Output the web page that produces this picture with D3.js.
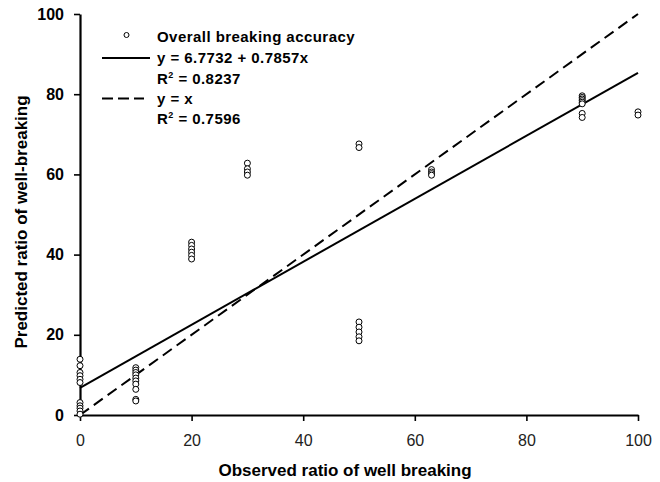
<!DOCTYPE html>
<html>
<head>
<meta charset="utf-8">
<script src="https://cdn.jsdelivr.net/npm/d3@7"></script>
<style>
  html, body { margin: 0; padding: 0; background: #fff; }
  svg { display: block; font-family: "Liberation Sans", Arial, sans-serif; }
</style>
</head>
<body>
<svg id="chart" width="660" height="482"></svg>
<script>
// ---- data ----
const observed = [
  0, 0, 0, 0, 0, 0, 0, 0, 0, 0, 0,
  10, 10, 10, 10, 10, 10, 10, 10, 10, 10,
  20, 20, 20, 20, 20, 20,
  30, 30, 30, 30,
  50, 50, 50, 50, 50, 50, 50,
  63, 63, 63, 63,
  90, 90, 90, 90, 90, 90, 90, 90,
  100, 100
];
const predicted = [
  13.9, 12.3, 10.6, 9.8, 8.9, 8.1, 3.1, 2.3, 1.7, 1.0, 0.2,
  11.8, 11.2, 10.6, 10.0, 9.2, 8.5, 7.7, 6.4, 3.9, 3.5,
  43.1, 42.3, 41.4, 40.6, 39.8, 38.9,
  62.8, 61.4, 60.6, 59.8,
  67.6, 66.7, 23.2, 21.9, 20.7, 19.5, 18.5,
  61.2, 60.6, 60.2, 59.8,
  79.6, 79.2, 78.8, 78.4, 78.0, 77.6, 75.2, 74.2,
  75.6, 74.8
];
const fitIntercept = 6.7732;
const fitSlope = 0.7857;
const lineXs = [0, 100];
const xTicks = [0, 20, 40, 60, 80, 100];
const yTicks = [0, 20, 40, 60, 80, 100];
const legendLabels = ["Overall breaking accuracy", "y = 6.7732 + 0.7857x", "0.8237", "y = x", "0.7596"];
const xTitle = "Observed ratio of well breaking";
const yTitle = "Predicted ratio of well-breaking";

// ---- layout ----
const svg = d3.select("#chart");
const pLeft = 80, pRight = 638, pTop = 14, pBottom = 415;
const x = d3.scaleLinear().domain([0, 100]).range([pLeft, pRight]);
const y = d3.scaleLinear().domain([0, 100]).range([pBottom, pTop]);

// axes
const xAxis = svg.append("g").attr("transform", `translate(0,${pBottom})`)
  .call(d3.axisBottom(x).tickValues(xTicks).tickSize(6).tickPadding(14).tickSizeOuter(0));
xAxis.select(".domain").attr("stroke", "#000").attr("stroke-width", 2.2);
xAxis.selectAll(".tick line").attr("stroke", "#000").attr("stroke-width", 1.6);
xAxis.selectAll(".tick text").attr("font-size", 16).attr("fill", "#222")
  .attr("font-family", "Liberation Sans, Arial, sans-serif");

const yAxis = svg.append("g").attr("transform", `translate(${pLeft},0)`)
  .call(d3.axisLeft(y).tickValues(yTicks).tickSize(6).tickPadding(10).tickSizeOuter(0));
yAxis.select(".domain").attr("stroke", "#000").attr("stroke-width", 2.2);
yAxis.selectAll(".tick line").attr("stroke", "#000").attr("stroke-width", 1.6);
yAxis.selectAll(".tick text").attr("font-size", 16).attr("font-weight", "bold").attr("fill", "#000")
  .attr("font-family", "Liberation Sans, Arial, sans-serif");

// lines
const line = d3.line().x(d => x(d[0])).y(d => y(d[1]));
svg.append("path")
  .datum(lineXs.map(v => [v, v]))
  .attr("d", line).attr("fill", "none").attr("stroke", "#000")
  .attr("stroke-width", 2).attr("stroke-dasharray", "11,6");
svg.append("path")
  .datum(lineXs.map(v => [v, fitIntercept + fitSlope * v]))
  .attr("d", line).attr("fill", "none").attr("stroke", "#000").attr("stroke-width", 2);

// points
svg.append("g").selectAll("circle")
  .data(observed.map((o, i) => [o, predicted[i]]))
  .join("circle")
  .attr("cx", d => x(d[0])).attr("cy", d => y(d[1])).attr("r", 3)
  .attr("fill", "#fff").attr("stroke", "#000").attr("stroke-width", 1);

// legend
const lg = svg.append("g").attr("font-size", 15).attr("font-weight", "bold").attr("letter-spacing", "0.45px");
const tx = 157;
lg.append("circle").attr("cx", 126.5).attr("cy", 35).attr("r", 2.5)
  .attr("fill", "#fff").attr("stroke", "#000").attr("stroke-width", 1);
lg.append("text").attr("x", tx).attr("y", 42).text(legendLabels[0]);
lg.append("line").attr("x1", 102).attr("x2", 150).attr("y1", 58).attr("y2", 58)
  .attr("stroke", "#000").attr("stroke-width", 2);
lg.append("text").attr("x", tx).attr("y", 63).text(legendLabels[1]);
const r1 = lg.append("text").attr("x", tx).attr("y", 83.5);
r1.append("tspan").text("R");
r1.append("tspan").attr("font-size", 9).attr("dy", -6).text("2");
r1.append("tspan").attr("dy", 6).text(" = " + legendLabels[2]);
lg.append("line").attr("x1", 102).attr("x2", 144).attr("y1", 98.5).attr("y2", 98.5)
  .attr("stroke", "#000").attr("stroke-width", 2).attr("stroke-dasharray", "11,5");
lg.append("text").attr("x", tx).attr("y", 104).text(legendLabels[3]);
const r2 = lg.append("text").attr("x", tx).attr("y", 124);
r2.append("tspan").text("R");
r2.append("tspan").attr("font-size", 9).attr("dy", -6).text("2");
r2.append("tspan").attr("dy", 6).text(" = " + legendLabels[4]);

// axis titles
svg.append("text").attr("x", 345).attr("y", 476).attr("text-anchor", "middle")
  .attr("font-size", 17).attr("font-weight", "bold").text(xTitle);
svg.append("text").attr("transform", `translate(27,222) rotate(-90)`)
  .attr("text-anchor", "middle").attr("font-size", 17).attr("font-weight", "bold").text(yTitle);
</script>
</body>
</html>
